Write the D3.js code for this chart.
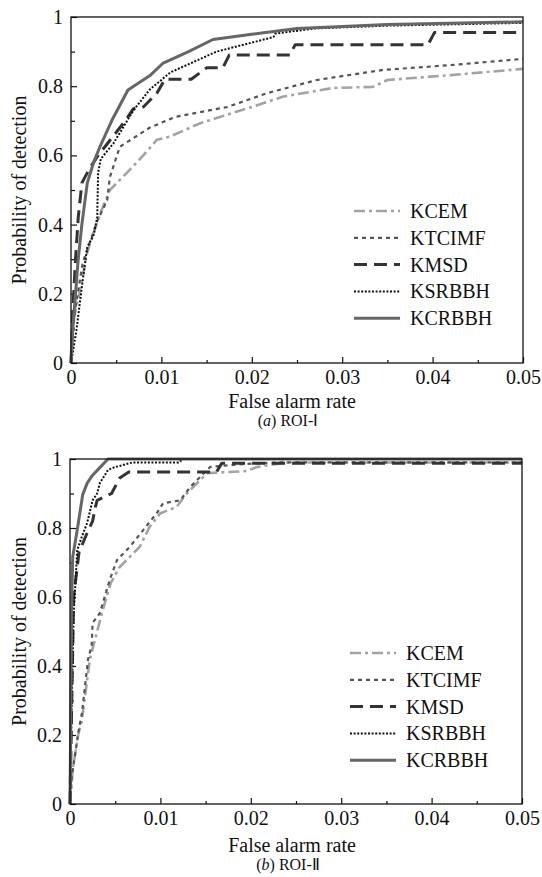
<html lang="en"><head><meta charset="utf-8"></head><body style="margin:0;background:#fff">
<style>
  body { font-family: "Liberation Serif", "Times New Roman", serif; }
  .tick text { font-family: "Liberation Serif", serif; font-size: 20px; fill: #111; }
  .tick line { stroke: #111; stroke-width: 1.2; }
  .lbl { font-size: 20px; fill: #111; }
</style>
<script src="https://d3js.org/d3.v7.min.js"></script>
<div id="chart"></div>
<script>
// series names and tick labels
var names = ["KCEM", "KTCIMF", "KMSD", "KSRBBH", "KCRBBH"];
var xTicks = [0, 0.01, 0.02, 0.03, 0.04, 0.05];
var xLabels = ["0", "0.01", "0.02", "0.03", "0.04", "0.05"];
var yTicks = [0, 0.2, 0.4, 0.6, 0.8, 1];
var yLabels = ["0", "0.2", "0.4", "0.6", "0.8", "1"];

// ROI-I curves [false alarm rate, probability of detection]
var kcemA = [[0,0],[0.0002,0.115],[0.001,0.21],[0.0018,0.32],[0.0032,0.43],[0.0043,0.5],[0.0062,0.55],[0.008,0.6],[0.0095,0.645],[0.011,0.655],[0.0143,0.693],[0.0161,0.708],[0.02,0.74],[0.0235,0.77],[0.029,0.795],[0.0334,0.798],[0.035,0.818],[0.042,0.832],[0.05,0.85]];
var ktcimfA = [[0,0],[0.0004,0.145],[0.0013,0.29],[0.0029,0.41],[0.004,0.47],[0.0043,0.537],[0.0054,0.625],[0.0087,0.68],[0.0115,0.711],[0.0143,0.725],[0.0173,0.74],[0.0217,0.78],[0.0272,0.818],[0.0345,0.847],[0.042,0.861],[0.05,0.879]];
var kmsdA = [[0,0],[0.0002,0.15],[0.0005,0.3],[0.0008,0.42],[0.0012,0.52],[0.002,0.56],[0.003,0.6],[0.0045,0.65],[0.006,0.7],[0.0069,0.735],[0.008,0.74],[0.0095,0.78],[0.0104,0.82],[0.0133,0.82],[0.015,0.853],[0.0168,0.853],[0.0175,0.89],[0.0242,0.89],[0.0248,0.92],[0.0395,0.92],[0.0402,0.955],[0.05,0.955]];
var ksrbbhA = [[0,0],[0.0002,0.03],[0.0006,0.095],[0.0013,0.24],[0.0018,0.335],[0.0025,0.37],[0.0029,0.42],[0.003,0.55],[0.0033,0.59],[0.0047,0.635],[0.0069,0.73],[0.0087,0.79],[0.011,0.84],[0.0161,0.9],[0.0224,0.942],[0.0226,0.952],[0.027,0.967],[0.035,0.975],[0.05,0.983]];
var kcrbbhA = [[0,0],[0.0002,0.1],[0.0005,0.2],[0.0008,0.3],[0.0012,0.4],[0.0018,0.52],[0.0025,0.58],[0.0032,0.625],[0.0045,0.7],[0.0063,0.789],[0.0087,0.83],[0.0102,0.867],[0.013,0.9],[0.0157,0.935],[0.02,0.95],[0.025,0.967],[0.035,0.978],[0.05,0.986]];

// ROI-II curves
var kcemB = [[0,0],[0.0003,0.1],[0.0009,0.2],[0.0013,0.24],[0.0017,0.32],[0.0022,0.42],[0.003,0.5],[0.0036,0.56],[0.0045,0.64],[0.0055,0.687],[0.0077,0.745],[0.0088,0.803],[0.01,0.843],[0.0118,0.861],[0.0129,0.9],[0.0144,0.939],[0.0152,0.959],[0.0195,0.965],[0.0207,0.977],[0.024,0.99],[0.05,0.99]];
var ktcimfB = [[0,0],[0.0002,0.08],[0.0006,0.15],[0.001,0.22],[0.0013,0.26],[0.0017,0.35],[0.002,0.42],[0.0024,0.46],[0.0025,0.525],[0.0033,0.553],[0.0044,0.65],[0.0052,0.707],[0.0066,0.745],[0.0081,0.794],[0.0096,0.843],[0.0103,0.872],[0.0122,0.88],[0.0133,0.919],[0.0144,0.948],[0.0155,0.977],[0.019,0.985],[0.023,0.99],[0.05,0.99]];
var kmsdB = [[0,0],[0.0002,0.3],[0.0004,0.6],[0.001,0.73],[0.0019,0.786],[0.0025,0.82],[0.0028,0.86],[0.003,0.88],[0.0046,0.9],[0.0055,0.945],[0.0065,0.962],[0.0162,0.962],[0.0168,0.988],[0.05,0.988]];
var ksrbbhB = [[0,0],[0.0002,0.3],[0.0004,0.55],[0.0006,0.64],[0.0008,0.736],[0.0013,0.774],[0.0019,0.815],[0.0025,0.88],[0.003,0.9],[0.0033,0.93],[0.0042,0.968],[0.0048,0.975],[0.0069,0.99],[0.012,0.99],[0.0125,1],[0.05,1]];
var kcrbbhB = [[0,0],[0.0001,0.3],[0.0002,0.6],[0.0003,0.716],[0.0008,0.794],[0.0014,0.896],[0.0019,0.93],[0.0025,0.953],[0.0033,0.975],[0.0042,1],[0.05,1]];

var styles = {
    KCEM:   { color: "#a3a3a3", width: 2.6, dash: "11,4,3,4" },
    KTCIMF: { color: "#555", width: 2.2, dash: "4,4" },
    KMSD:   { color: "#333", width: 3, dash: "13,7" },
    KSRBBH: { color: "#111", width: 2, dash: "2,1.6" },
    KCRBBH: { color: "#666", width: 3, dash: null }
};

var svg = d3.select("#chart").append("svg")
    .attr("width", 542).attr("height", 877);

function panel(p) {
    var x = d3.scaleLinear().domain([0, 0.05]).range([p.left, p.right]);
    var y = d3.scaleLinear().domain([0, 1]).range([p.bottom, p.top]);
    var g = svg.append("g");

    // minor ticks
    g.append("g").attr("transform", "translate(0," + p.bottom + ")")
        .call(d3.axisBottom(x).tickValues(d3.range(0.005, 0.05, 0.01)).tickSize(-3).tickFormat(""))
        .call(a => a.select(".domain").remove());
    g.append("g").attr("transform", "translate(" + p.left + ",0)")
        .call(d3.axisLeft(y).tickValues(d3.range(0.1, 1, 0.2)).tickSize(-4).tickFormat(""))
        .call(a => a.select(".domain").remove());

    // major ticks with labels
    g.append("g").attr("transform", "translate(0," + p.bottom + ")")
        .call(d3.axisBottom(x).tickValues(xTicks).tickSize(-6).tickPadding(7)
            .tickFormat((d, i) => xLabels[i]))
        .call(a => a.select(".domain").remove());
    g.append("g").attr("transform", "translate(" + p.left + ",0)")
        .call(d3.axisLeft(y).tickValues(yTicks).tickSize(-6).tickPadding(8)
            .tickFormat((d, i) => yLabels[i]))
        .call(a => a.select(".domain").remove());

    var line = d3.line().x(d => x(d[0])).y(d => y(d[1]));
    p.series.forEach(function (s, i) {
        var st = styles[names[i]];
        g.append("path").datum(s)
            .attr("d", line)
            .attr("fill", "none")
            .attr("stroke", st.color)
            .attr("stroke-width", st.width)
            .attr("stroke-dasharray", st.dash)
            .attr("stroke-linejoin", "round");
    });

    // frame
    g.append("rect")
        .attr("x", p.left).attr("y", p.top)
        .attr("width", p.right - p.left).attr("height", p.bottom - p.top)
        .attr("fill", "none").attr("stroke", "#111").attr("stroke-width", 1.3);

    // legend
    names.forEach(function (n, i) {
        var st = styles[n];
        var ly = p.legY + i * 26.8;
        g.append("line")
            .attr("x1", p.legX).attr("x2", p.legX + 46)
            .attr("y1", ly).attr("y2", ly)
            .attr("stroke", st.color)
            .attr("stroke-width", st.width)
            .attr("stroke-dasharray", st.dash);
        g.append("text").attr("class", "lbl")
            .attr("x", p.legX + 56).attr("y", ly + 7)
            .text(n);
    });

    // axis titles
    g.append("text").attr("class", "lbl")
        .attr("x", 292).attr("y", p.bottom + p.titleGap)
        .attr("text-anchor", "middle")
        .text("False alarm rate");
    g.append("text").attr("class", "lbl")
        .attr("transform", "translate(26," + ((p.top + p.bottom) / 2) + ") rotate(-90)")
        .attr("text-anchor", "middle")
        .text("Probability of detection");

    // caption
    var cap = g.append("text")
        .attr("x", 288).attr("y", p.bottom + p.titleGap + 18)
        .attr("text-anchor", "middle")
        .style("font-size", "16px").style("fill", "#111");
    cap.append("tspan").text("(");
    cap.append("tspan").style("font-style", "italic").text(p.tag);
    cap.append("tspan").text(")  ROI-" + p.roman);
}

panel({ left: 71, right: 523, top: 17, bottom: 363, legX: 354, legY: 211, titleGap: 45,
        series: [kcemA, ktcimfA, kmsdA, ksrbbhA, kcrbbhA], tag: "a", roman: "\u2160" });
panel({ left: 70, right: 522, top: 459, bottom: 804, legX: 350, legY: 653, titleGap: 48,
        series: [kcemB, ktcimfB, kmsdB, ksrbbhB, kcrbbhB], tag: "b", roman: "\u2161" });
</script>
</body></html>
